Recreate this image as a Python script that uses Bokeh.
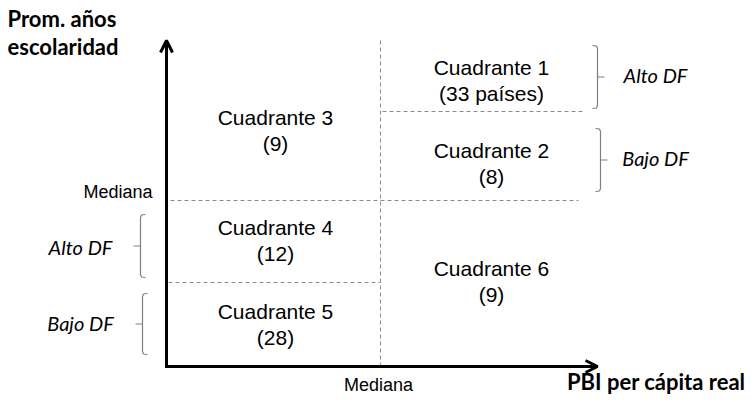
from bokeh.plotting import figure
from bokeh.models import Range1d, Arrow, OpenHead
from bokeh.core.properties import value
from bokeh.embed import file_html
from bokeh.resources import INLINE

# ---- data ----
quadrant_names = ["Cuadrante 1", "Cuadrante 2", "Cuadrante 3", "Cuadrante 4", "Cuadrante 5", "Cuadrante 6"]
quadrant_counts = ["(33 países)", "(8)", "(9)", "(12)", "(28)", "(9)"]
y_axis_title = ["Prom. años", "escolaridad"]
x_axis_title = "PBI per cápita real"
median_label = "Mediana"
df_labels = ["Alto DF", "Bajo DF"]

# ---- layout (pixel-like diagram coordinates) ----
W, H = 748, 394
p = figure(width=W, height=H, output_backend="svg", toolbar_location=None,
           x_range=Range1d(0, W), y_range=Range1d(H, 0),
           x_axis_type=None, y_axis_type=None, min_border=0)
p.outline_line_color = None
p.background_fill_color = "white"

X0, XM, X1 = 166, 380, 597          # y-axis, x-median, x-arrow tip
Y0, YTOP = 366, 40                  # x-axis, y-arrow tip
YM, YQ12, YQ45 = 200, 111, 282      # y-median, split Q1/Q2, split Q4/Q5

dash = dict(line_color="#8c8c8c", line_width=1, line_dash="4 3")
p.line([XM, XM], [YTOP, Y0], **dash)
p.line([170, 578], [YM, YM], **dash)
p.line([382, 582], [YQ12, YQ12], **dash)
p.line([168, XM], [YQ45, YQ45], **dash)

# axes with arrows
p.add_layout(Arrow(end=OpenHead(size=12, line_width=3, line_color="black"),
                   x_start=X0, y_start=Y0 + 1.5, x_end=X0, y_end=YTOP,
                   line_width=3, line_color="black"))
p.add_layout(Arrow(end=OpenHead(size=12, line_width=3, line_color="black"),
                   x_start=X0 - 1.5, y_start=Y0, x_end=X1, y_end=Y0,
                   line_width=3, line_color="black"))

# quadrant labels
cx_left = (X0 + XM) / 2 + 2
cx_right = 491
name_y = [67, 150, 117, 227, 311, 268]
cx = [cx_right, cx_right, cx_left, cx_left, cx_left, cx_right]
qfont = dict(text_font=value("Liberation Sans"), text_font_size="21px",
             text_align="center", text_baseline="middle", text_color="black")
p.text(x=cx, y=name_y, text=quadrant_names, **qfont)
p.text(x=cx, y=[v + 26 for v in name_y], text=quadrant_counts, **qfont)

# median labels
mfont = dict(text_font=value("Liberation Sans"), text_font_size="18px",
             text_baseline="middle", text_color="black")
p.text(x=[152], y=[191], text=[median_label], text_align="right", **mfont)
p.text(x=[XM - 2], y=[384], text=[median_label], text_align="center", **mfont)

# axis titles
tfont = dict(text_font=value("Lato"), text_font_size="22px", text_font_style="bold",
             text_baseline="middle", text_color="black")
p.text(x=[7, 7], y=[18, 46], text=y_axis_title, text_align="left", **tfont)
p.text(x=[745], y=[381], text=[x_axis_title], text_align="right", **tfont)

# braces
bc = dict(line_color="#7f7f7f", line_width=1.2)
def right_brace(xb, top, bot):
    mid = (top + bot) / 2
    p.line([xb - 5, xb - 1, xb, xb, xb - 1, xb - 5],
           [top, top + 0.5, top + 3, bot - 3, bot - 0.5, bot], **bc)
    p.line([xb, xb + 7], [mid, mid], **bc)

def left_brace(xb, top, bot):
    mid = (top + bot) / 2
    p.line([xb + 5, xb + 1, xb, xb, xb + 1, xb + 5],
           [top, top + 0.5, top + 3, bot - 3, bot - 0.5, bot], **bc)
    p.line([xb, xb - 7], [mid, mid], **bc)

right_brace(597, 45, 108)
right_brace(600, 128, 191)
left_brace(140, 214, 277)
left_brace(142, 293, 354)

dfont = dict(text_font=value("Lato"), text_font_size="20px", text_font_style="italic",
             text_baseline="middle", text_color="black", text_align="center")
p.text(x=[655, 655], y=[74, 157], text=df_labels, **dfont)
p.text(x=[80, 80], y=[246, 322], text=df_labels, **dfont)

open("out.html", "w").write(file_html(p, INLINE))
